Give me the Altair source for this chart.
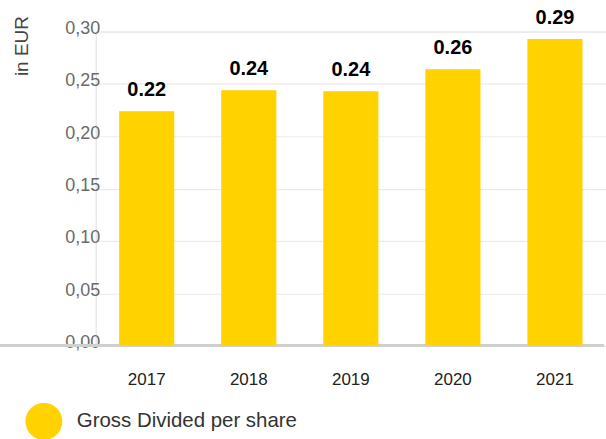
import altair as alt
import pandas as pd

years = ["2017", "2018", "2019", "2020", "2021"]
values = [0.224, 0.244, 0.243, 0.264, 0.293]
labels = ["0.22", "0.24", "0.24", "0.26", "0.29"]
series = ["Gross Divided per share"] * 5
y_ticks = [0.0, 0.05, 0.10, 0.15, 0.20, 0.25, 0.30]

df = pd.DataFrame({"year": years, "value": values, "label": labels, "series": series})

x = alt.X("year:N", title=None, sort=years,
          scale=alt.Scale(paddingInner=0.46, paddingOuter=0.23),
          axis=alt.Axis(labelAngle=0, domain=False, ticks=False, labelPadding=26,
                        labelFontSize=17, labelColor="#222222", labelFont="Liberation Sans"))
y = alt.Y("value:Q", title="in EUR",
          scale=alt.Scale(domain=[0, 0.30], nice=False),
          axis=alt.Axis(values=y_ticks, labelExpr="replace(format(datum.value, '.2f'), '.', ',')",
                        domain=False, ticks=False, labelPadding=-4, labelOffset=-3, grid=True,
                        gridColor="#ebebeb", gridWidth=1.2,
                        labelFontSize=18, labelColor="#6a6a6a", labelFont="Liberation Sans",
                        titleAngle=270, titleAlign="right", titleBaseline="middle",
                        titleX=-74, titleY=-16,
                        titleFontSize=19, titleFontWeight="normal",
                        titleColor="#444444", titleFont="Liberation Sans"))

bars = alt.Chart(df).mark_bar().encode(
    x=x, y=y,
    color=alt.Color("series:N", title=None,
                    scale=alt.Scale(range=["#FFD200"]),
                    legend=alt.Legend(orient="none", legendX=-71, legendY=372,
                                      symbolType="circle", symbolSize=1370,
                                      symbolStrokeWidth=0, labelFontSize=20.5,
                                      labelColor="#333333", labelFont="Liberation Sans",
                                      labelOffset=14, labelLimit=400)),
)

text = alt.Chart(df).mark_text(dy=-15, baseline="alphabetic", fontSize=20, fontWeight="bold",
                               color="#000000", font="Liberation Sans").encode(
    x=alt.X("year:N", sort=years), y="value:Q", text="label:N")

zero = alt.Chart(pd.DataFrame({"v": [0.0]})).mark_rule(color="#cfcfcf", strokeWidth=3, clip=False).encode(
    y="v:Q", x=alt.value(-96), x2=alt.value(510))

chart = alt.layer(zero, bars, text).properties(
    width=512, height=315,
    autosize=alt.AutoSizeParams(type="none"),
    padding={"left": 96, "top": 31, "right": 0, "bottom": 93},
).configure_view(stroke=None).configure(background="white")

chart.save("out.html", embed_options={"renderer": "svg", "actions": False})
